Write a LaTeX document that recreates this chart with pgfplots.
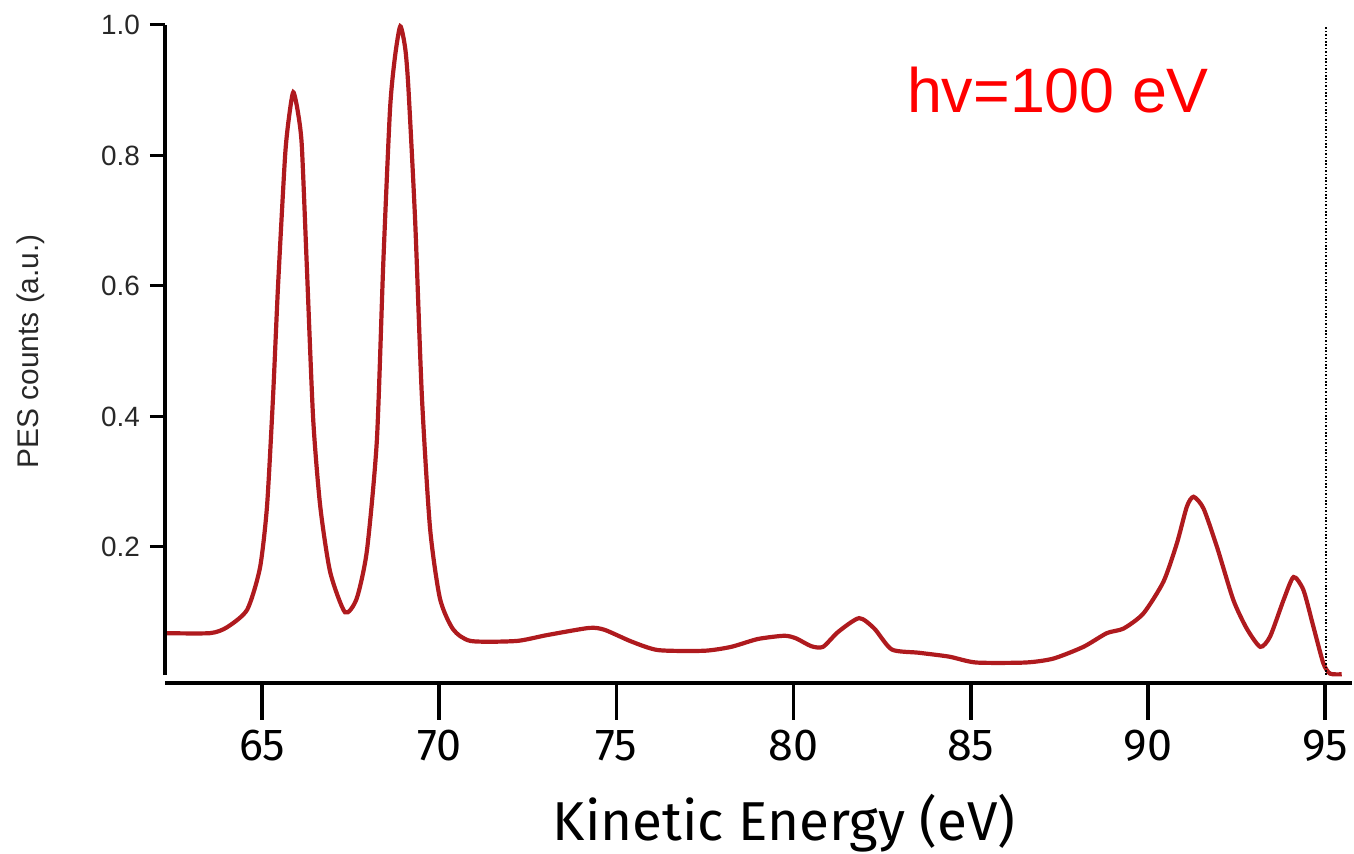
\documentclass[border=0pt]{standalone}
\usepackage{fontspec}
\usepackage{pgfplots}
\pgfplotsset{compat=1.18}
\setmainfont{Liberation Sans}
\newfontfamily\ubfont{Fira Sans}
\definecolor{curve}{RGB}{175,26,30}
\definecolor{ytext}{RGB}{40,40,40}
\begin{document}
\begin{tikzpicture}
\begin{axis}[
  scale only axis, width=1187bp, height=658bp,
  xmin=62.26, xmax=95.76, ymin=-0.0084, ymax=1.0,
  axis x line=bottom, axis y line=none,
  axis line style={-, line width=3.4bp, black},
  x axis line style={-},
  xtick={65,70,75,80,85,90,95},
  xticklabels={65,70,75,80,85,90,95},
  ytick=\empty,
  tick align=outside,
  major tick length=37bp,
  xtick style={line width=3.6bp, black},
  xticklabel style={font=\fontsize{45}{54}\selectfont\ubfont, inner sep=0pt, yshift=-10bp},
  /pgf/number format/assume math mode=true,
  clip=false,
]
\addplot[curve, line width=4.2bp, smooth, tension=0.4] coordinates {
(62.26,0.068) (63.53,0.068) (64.01,0.077) (64.58,0.104) (64.94,0.168)
(65.14,0.263) (65.31,0.431) (65.45,0.60) (65.65,0.80) (65.77,0.863)
(65.88,0.897) (66.00,0.87) (66.12,0.816) (66.26,0.634) (66.44,0.398)
(66.64,0.263) (66.92,0.162) (67.34,0.100) (67.67,0.121) (67.96,0.195)
(68.24,0.364) (68.42,0.634) (68.61,0.87) (68.75,0.951) (68.90,0.998)
(69.04,0.964) (69.13,0.903) (69.32,0.70) (69.51,0.431) (69.74,0.229)
(70.02,0.121) (70.39,0.074) (70.89,0.056) (72.18,0.056) (73.04,0.065)
(74.23,0.076) (74.67,0.073) (75.43,0.055) (76.18,0.042) (77.48,0.041)
(78.24,0.047) (78.99,0.059) (79.74,0.064) (80.07,0.060) (80.50,0.048)
(80.83,0.047) (81.26,0.070) (81.85,0.091) (82.28,0.075) (82.77,0.043)
(83.53,0.038) (84.39,0.032) (85.15,0.023) (86.55,0.023) (87.33,0.029)
(88.18,0.047) (88.84,0.068) (89.31,0.075) (89.87,0.098) (90.44,0.147)
(90.82,0.206) (91.10,0.262) (91.29,0.277) (91.57,0.259) (91.95,0.200)
(92.41,0.119) (92.79,0.075) (93.17,0.047) (93.45,0.063) (93.83,0.119)
(94.11,0.154) (94.39,0.134) (94.67,0.078) (94.95,0.022) (95.14,0.006)
(95.47,0.005)
};
\addplot[black, line width=2.4bp, dash pattern=on 1.6bp off 1.8bp] coordinates {(95.03,0.004) (95.03,0.9985)};
\node[anchor=base, font=\fontsize{55}{66}\selectfont\ubfont, inner sep=0pt] at (axis description cs:0.5215,-0.2386) {Kinetic Energy (eV)};
\node[anchor=base west, font=\fontsize{63}{75}\selectfont, text=red, inner sep=0pt] at (axis description cs:0.625,0.8663) {hv=100 eV};
\end{axis}
\begin{axis}[
  at={(0bp,8bp)}, anchor=south west,
  scale only axis, width=1187bp, height=650bp,
  xmin=62.26, xmax=95.76, ymin=0.0038, ymax=1.0,
  axis x line=none, axis y line=left,
  axis line style={-, line width=4bp, black},
  y axis line style={-},
  xtick=\empty,
  ytick={0.2,0.4,0.6,0.8,1.0},
  yticklabels={0.2,0.4,0.6,0.8,1.0},
  tick align=outside, major tick length=15bp,
  ytick style={line width=3bp, black},
  yticklabel style={font=\fontsize{28}{34}\selectfont, text=ytext, inner sep=0pt, xshift=-10bp},
  /pgf/number format/assume math mode=true,
  ylabel={PES counts (a.u.)},
  every axis y label/.style={at={(axis description cs:-0.1129,0.498)}, rotate=90, anchor=center, font=\fontsize{30}{36}\selectfont, text=ytext},
]
\end{axis}
\pgfresetboundingbox
\path (-165bp,-171bp) rectangle (1189bp,683bp);
\end{tikzpicture}
\end{document}
